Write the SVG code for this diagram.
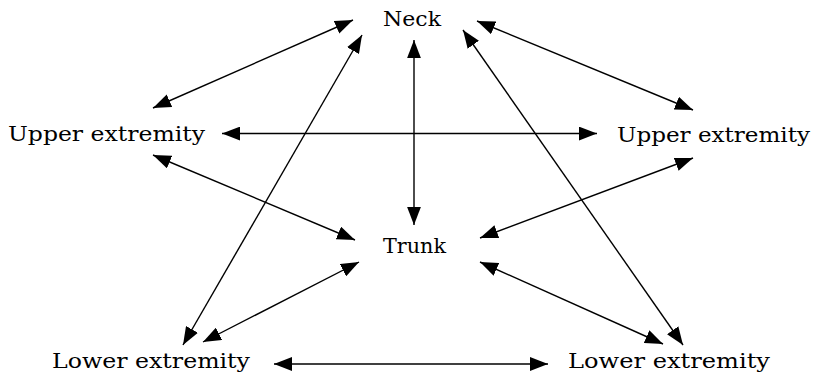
<svg xmlns="http://www.w3.org/2000/svg" width="815" height="375" viewBox="0 0 815 375">
<style>
text{font-family:"DejaVu Serif","Liberation Serif",serif;font-size:21px;fill:#000;}
line{stroke:#000;stroke-width:1.4;marker-start:url(#ah);marker-end:url(#ah);}
</style>
<defs>
<marker id="ah" markerUnits="userSpaceOnUse" markerWidth="18" markerHeight="14" refX="17" refY="6.5" orient="auto-start-reverse" viewBox="0 0 17 13">
<path d="M0,0 L17,6.5 L0,13 z" fill="#000"/>
</marker>
</defs>
<rect width="815" height="375" fill="#fff"/>
<g id="connectors">
<line x1="353" y1="20" x2="153" y2="108"/>
<line x1="362" y1="35" x2="183" y2="345"/>
<line x1="414" y1="40" x2="414" y2="225"/>
<line x1="222" y1="133.5" x2="597" y2="133.5"/>
<line x1="477" y1="21" x2="693" y2="110"/>
<line x1="463" y1="30" x2="683" y2="345"/>
<line x1="153" y1="155" x2="355" y2="240"/>
<line x1="693" y1="158" x2="480" y2="238"/>
<line x1="203" y1="342" x2="359" y2="262"/>
<line x1="480" y1="262" x2="663" y2="344"/>
<line x1="274" y1="364" x2="548" y2="364"/>
</g>
<g id="neck"><text x="383" y="26" textLength="58" lengthAdjust="spacingAndGlyphs">Neck</text></g>
<g id="upper-left"><text x="8" y="141" textLength="197" lengthAdjust="spacingAndGlyphs">Upper extremity</text></g>
<g id="upper-right"><text x="617" y="142" textLength="193" lengthAdjust="spacingAndGlyphs">Upper extremity</text></g>
<g id="trunk"><text x="383" y="253" textLength="63" lengthAdjust="spacingAndGlyphs">Trunk</text></g>
<g id="lower-left"><text x="52" y="368" textLength="198" lengthAdjust="spacingAndGlyphs">Lower extremity</text></g>
<g id="lower-right"><text x="568" y="368" textLength="202" lengthAdjust="spacingAndGlyphs">Lower extremity</text></g>
</svg>
